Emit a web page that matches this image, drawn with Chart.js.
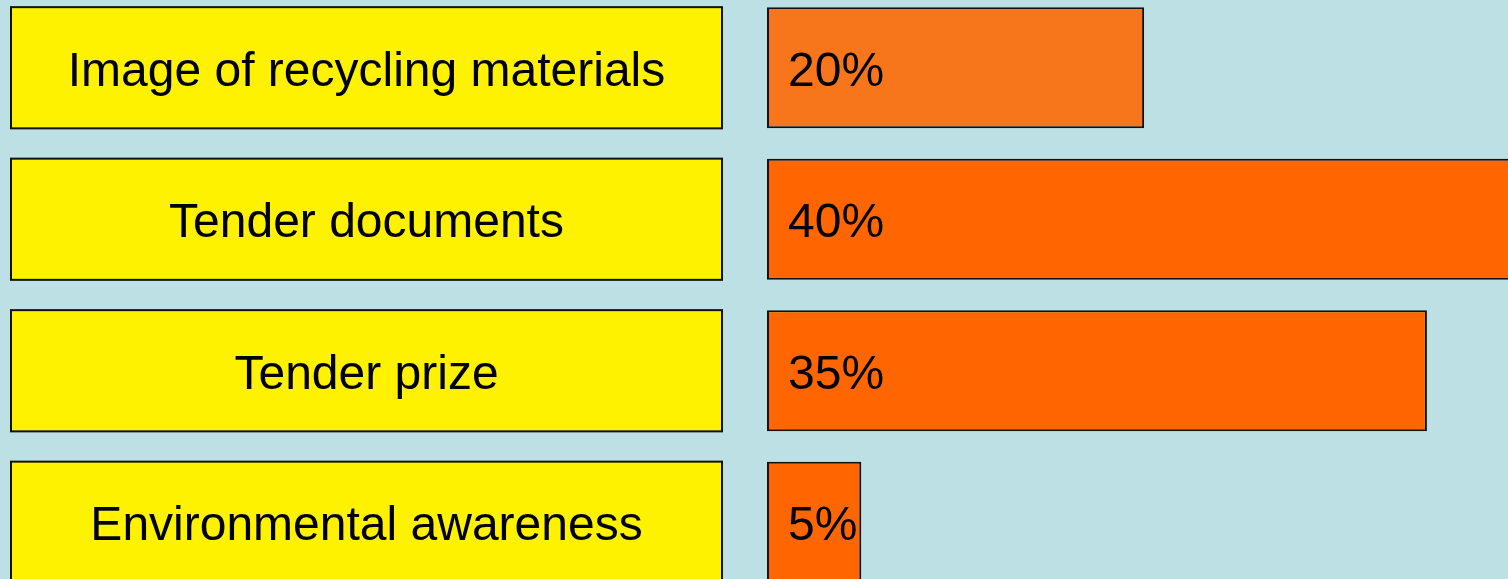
<!DOCTYPE html>
<html>
<head>
<meta charset="utf-8">
<script src="https://cdn.jsdelivr.net/npm/chart.js@4/dist/chart.umd.min.js"></script>
<style>
  html, body { margin: 0; padding: 0; background: #BCE0E3; overflow: hidden; }
  #wrap { position: absolute; left: 0; top: -8px; width: 1508px; height: 606px; }
</style>
</head>
<body>
<div id="wrap"><canvas id="factorsChart"></canvas></div>
<script>
// data
var categories = ['Image of recycling materials', 'Tender documents', 'Tender prize', 'Environmental awareness'];
var shares = [20, 40, 35, 5];
var barColors = ['#F7761C', '#FF6600', '#FF6600', '#FF6600'];
var axisMax = 39.3; // the 40% bar runs off the right edge

var FONT = '48px "Liberation Sans", Arial, sans-serif';

// yellow label boxes on the left, placed on the y scale's rows
var labelBoxes = {
    id: 'labelBoxes',
    afterDatasetsDraw: function (chart) {
        var ctx = chart.ctx;
        var yScale = chart.scales.y;
        var meta = chart.getDatasetMeta(0);
        ctx.save();
        ctx.font = FONT;
        ctx.textBaseline = 'middle';
        categories.forEach(function (name, i) {
            var y = yScale.getPixelForValue(i);
            var h = meta.data[i].height;
            var left = 11, right = 722;
            ctx.fillStyle = '#FFF200';
            ctx.fillRect(left, y - h / 2, right - left, h);
            ctx.lineWidth = 2;
            ctx.strokeStyle = '#111';
            ctx.strokeRect(left, y - h / 2, right - left, h);
            ctx.fillStyle = '#000';
            ctx.textAlign = 'center';
            ctx.fillText(name, (left + right) / 2, y + 5);

            // percentage inside the orange bar
            var bar = meta.data[i];
            ctx.textAlign = 'left';
            ctx.fillText(shares[i] + '%', bar.base + 21, y + 5);
        });
        ctx.restore();
    }
};

var ctx = document.getElementById('factorsChart').getContext('2d');
var factorsChart = new Chart(ctx, {
    type: 'bar',
    data: {
        labels: categories,
        datasets: [{
            data: shares,
            backgroundColor: barColors,
            borderColor: '#111',
            borderWidth: 2,
            borderSkipped: false,
            categoryPercentage: 1,
            barPercentage: 0.8
        }]
    },
    options: {
        indexAxis: 'y',
        responsive: true,
        maintainAspectRatio: false,
        animation: false,
        layout: { padding: { left: 767, right: 0, top: 0, bottom: 0 } },
        scales: {
            x: { display: false, min: 0, max: axisMax },
            y: { display: false }
        },
        plugins: {
            legend: { display: false },
            tooltip: { enabled: false }
        }
    },
    plugins: [labelBoxes]
});
</script>
</body>
</html>
